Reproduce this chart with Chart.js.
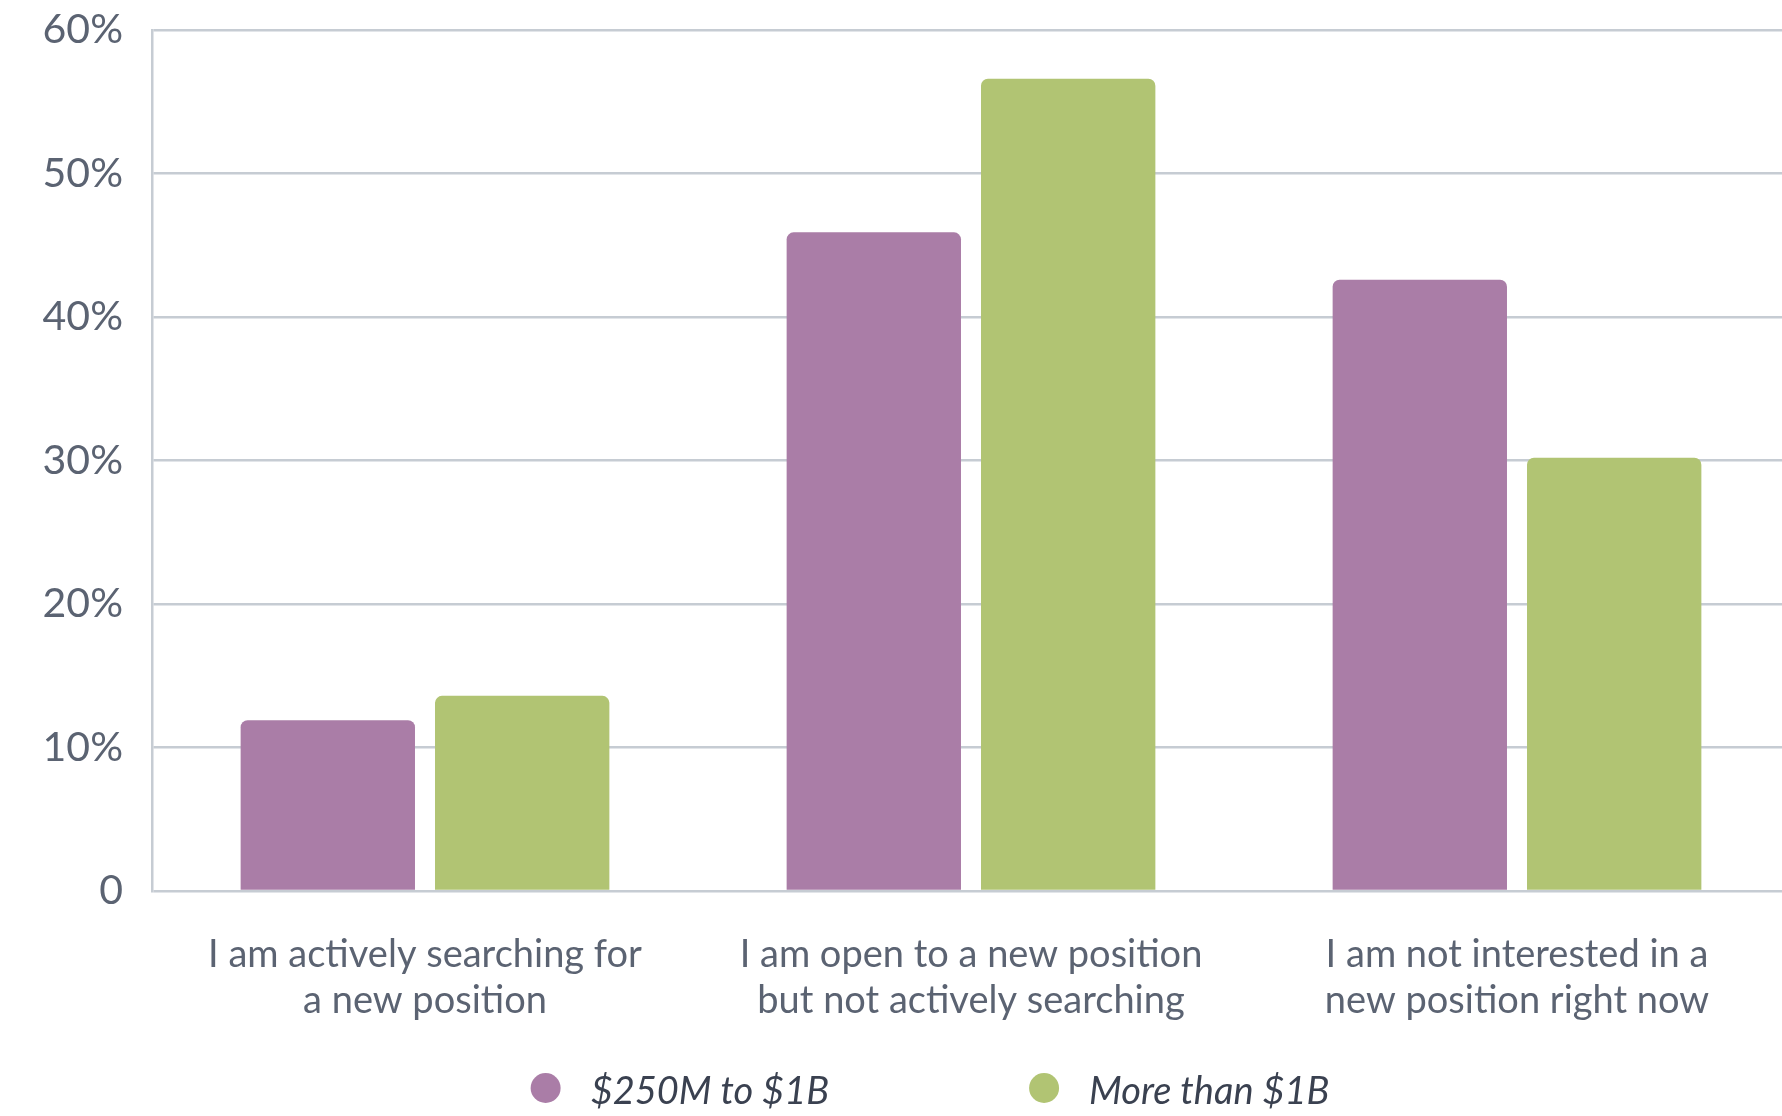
<!DOCTYPE html>
<html>
<head>
<meta charset="utf-8">
<script src="https://cdn.jsdelivr.net/npm/chart.js@4.4.1/dist/chart.umd.min.js"></script>
<style>
  html, body { margin: 0; padding: 0; background: #ffffff; overflow: hidden; }
  #wrap { width: 1782px; height: 1116px; position: relative; overflow: hidden; }
</style>
</head>
<body>
<div id="wrap"><canvas id="chart" width="1790" height="1116"></canvas></div>
<script>
// Survey answers (x categories), two revenue bands as series
const categories = [
  ['I am actively searching for', 'a new position'],
  ['I am open to a new position', 'but not actively searching'],
  ['I am not interested in a', 'new position right now']
];
const seriesNames = ['$250M to $1B', 'More than $1B'];
const midSizeValues = [11.9, 45.9, 42.6];
const largeValues = [13.6, 56.6, 30.2];
const yTicks = [0, 10, 20, 30, 40, 50, 60];

const PURPLE = '#AA7DA7';
const GREEN = '#B1C473';
const GRID = '#C6CCD3';
const TEXT = '#5B6372';
const FONT = 'Lato, "Open Sans", sans-serif';

// Legend drawn below the axis labels
const bottomLegend = {
  id: 'bottomLegend',
  afterDraw(chart, args, opts) {
    const ctx = chart.ctx;
    const items = chart.data.datasets;
    ctx.save();
    ctx.font = 'italic 38px ' + FONT;
    ctx.textBaseline = 'middle';
    const r = opts.radius, gapText = opts.gapText, gapItem = opts.gapItem;
    const widths = items.map(d => 2 * r + gapText + ctx.measureText(d.label).width);
    const total = widths.reduce((a, b) => a + b, 0) + gapItem * (items.length - 1);
    let x = opts.centerX - total / 2;
    const y = opts.y;
    items.forEach((d, i) => {
      ctx.fillStyle = d.backgroundColor;
      ctx.beginPath();
      ctx.arc(x + r, y - 4, r, 0, Math.PI * 2);
      ctx.fill();
      ctx.fillStyle = '#3A4150';
      ctx.fillText(d.label, x + 2 * r + gapText, y);
      x += widths[i] + gapItem;
    });
    ctx.restore();
  }
};

new Chart(document.getElementById('chart'), {
  type: 'bar',
  data: {
    labels: categories,
    datasets: [
      { label: seriesNames[0], data: midSizeValues, backgroundColor: PURPLE },
      { label: seriesNames[1], data: largeValues, backgroundColor: GREEN }
    ]
  },
  plugins: [bottomLegend],
  options: {
    responsive: false,
    animation: false,
    layout: { padding: { top: 30, right: 0, left: 0, bottom: 0 } },
    datasets: {
      bar: {
        barPercentage: 0.897,
        categoryPercentage: 0.712,
        borderRadius: 7,
        borderSkipped: 'bottom'
      }
    },
    plugins: {
      legend: { display: false },
      tooltip: { enabled: false },
      bottomLegend: { centerX: 930, y: 1092, radius: 15, gapText: 30, gapItem: 200 }
    },
    scales: {
      x: {
        grid: { display: false, drawTicks: false },
        border: { display: false },
        ticks: {
          color: TEXT,
          font: { family: FONT, size: 38, lineHeight: 1.2 },
          padding: 41,
          maxRotation: 0,
          autoSkip: false
        },
        afterFit(scale) { scale.height = 225; }
      },
      y: {
        min: 0,
        max: 60,
        afterBuildTicks(scale) { scale.ticks = yTicks.map(v => ({ value: v })); },
        grid: { color: GRID, lineWidth: 2.5, drawTicks: true, tickLength: 27, tickColor: 'rgba(0,0,0,0)' },
        border: { display: true, color: GRID, width: 2.5 },
        ticks: {
          color: TEXT,
          font: { family: FONT, size: 41 },
          padding: 2,
          callback: v => (v === 0 ? '0' : v + '%')
        },
        afterFit(scale) { scale.width = 152; }
      }
    }
  }
});
</script>
</body>
</html>
